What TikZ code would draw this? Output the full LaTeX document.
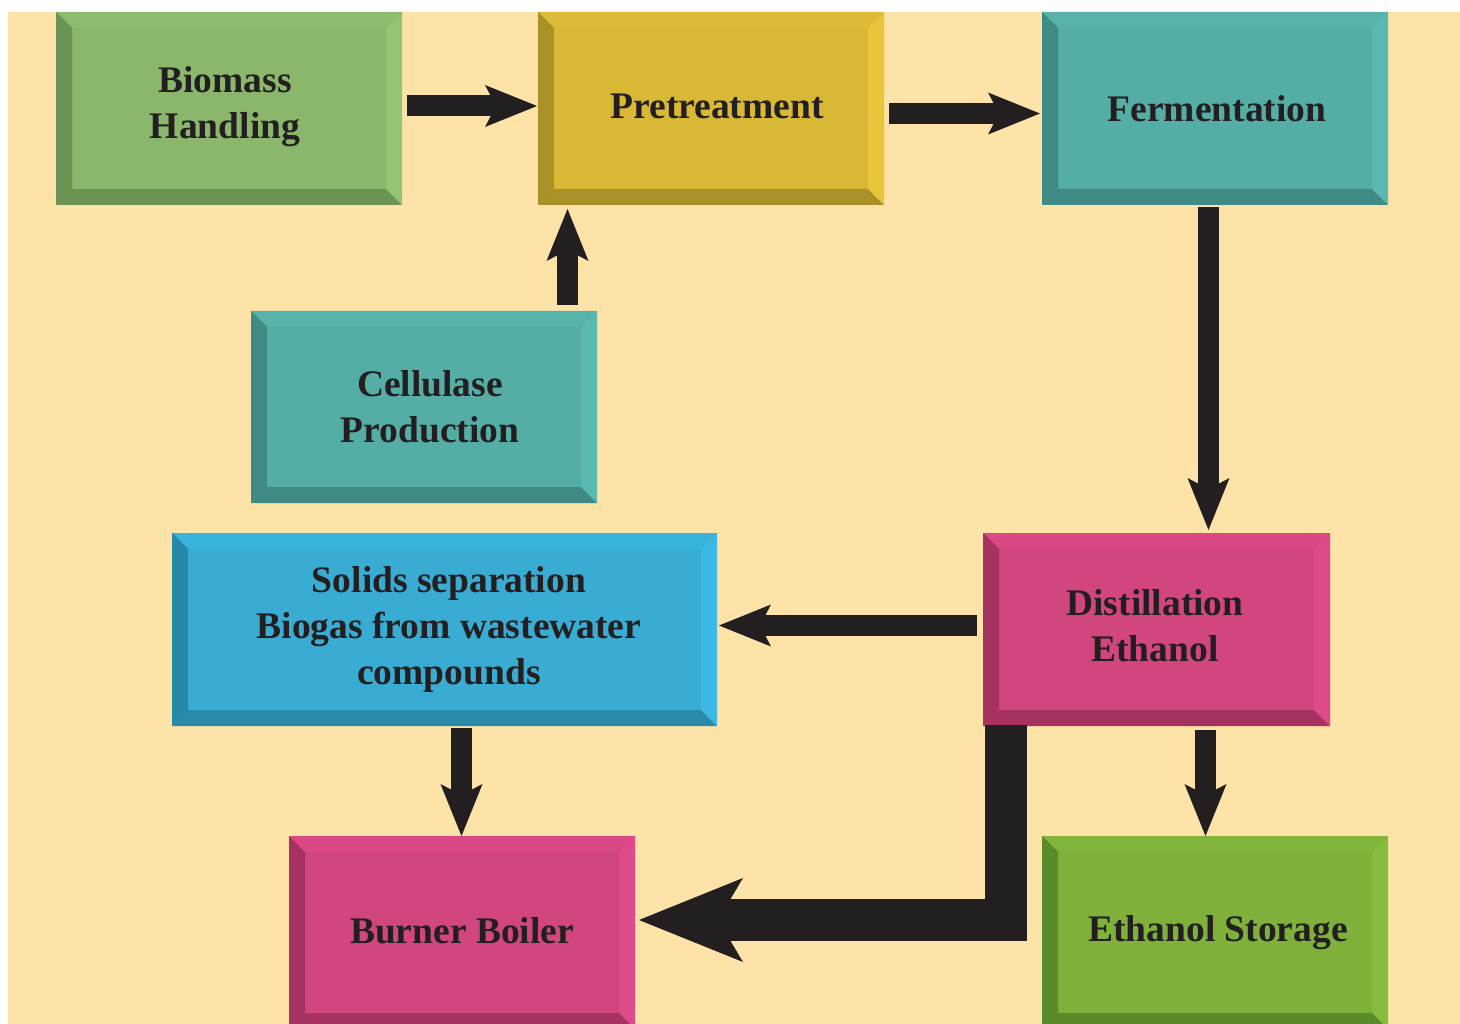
\documentclass[tikz,border=0pt]{standalone}
\usepackage{fontspec}
\setmainfont{Liberation Serif}
\usetikzlibrary{arrows.meta,calc}
\definecolor{bgc}{HTML}{FDE3A8}
\definecolor{ink}{HTML}{231F20}
% green 1
\definecolor{gaF}{HTML}{8AB76B}\definecolor{gaT}{HTML}{8EBC6E}\definecolor{gaL}{HTML}{6A9354}\definecolor{gaB}{HTML}{6A9354}\definecolor{gaR}{HTML}{93C575}
% yellow
\definecolor{yF}{HTML}{D8B835}\definecolor{yT}{HTML}{DDBA38}\definecolor{yL}{HTML}{A99128}\definecolor{yB}{HTML}{A99128}\definecolor{yR}{HTML}{E9C53A}
% teal
\definecolor{tF}{HTML}{54AEA6}\definecolor{tT}{HTML}{57B2AA}\definecolor{tL}{HTML}{3F8A83}\definecolor{tB}{HTML}{3F8A83}\definecolor{tR}{HTML}{5AB9B0}
% pink
\definecolor{pF}{HTML}{D1467F}\definecolor{pT}{HTML}{DA4986}\definecolor{pL}{HTML}{A53260}\definecolor{pB}{HTML}{A53260}\definecolor{pR}{HTML}{DF4A88}
% blue
\definecolor{bF}{HTML}{38ACD2}\definecolor{bT}{HTML}{38B4DC}\definecolor{bL}{HTML}{2689A8}\definecolor{bB}{HTML}{2A8CAA}\definecolor{bR}{HTML}{3BB9E2}
% green 2
\definecolor{gbF}{HTML}{7EB03A}\definecolor{gbT}{HTML}{80B43A}\definecolor{gbL}{HTML}{5B8A2A}\definecolor{gbB}{HTML}{5B8A2A}\definecolor{gbR}{HTML}{86BC3E}
\newcommand\bev[5]{%
  \fill[#2] (#1.north west) -- (#1.north east) -- ([shift={(-16,16)}]#1.north east) -- ([shift={(16,16)}]#1.north west) -- cycle;
  \fill[#3] (#1.north west) -- ([shift={(16,16)}]#1.north west) -- ([shift={(16,-16)}]#1.south west) -- (#1.south west) -- cycle;
  \fill[#4] (#1.south west) -- ([shift={(16,-16)}]#1.south west) -- ([shift={(-16,-16)}]#1.south east) -- (#1.south east) -- cycle;
  \fill[#5] (#1.north east) -- ([shift={(-16,16)}]#1.north east) -- ([shift={(-16,-16)}]#1.south east) -- (#1.south east) -- cycle;
}
\tikzset{
  box/.style={draw=none, inner sep=0pt, outer sep=0pt, minimum width=346pt, minimum height=193pt},
  lbl/.style={text=ink, align=center, inner sep=0pt, font=\fontsize{37.5}{46}\selectfont\bfseries},
  arr/.style={draw=ink, line width=21pt, -{Stealth[length=52pt,width=42pt,inset=11pt,line width=0pt]}},
  bigarr/.style={draw=ink, line width=42pt, line join=miter, -{Stealth[length=104pt,width=84pt,inset=25pt,line width=0pt]}},
}
\begin{document}
\begin{tikzpicture}[x=1pt,y=-1pt]
\useasboundingbox (0,0) rectangle (1460,1024);
\fill[white] (0,0) rectangle (1460,1024);
\fill[bgc] (8,12) rectangle (1460,1024);

\node[box, fill=gaF] (bio) at (229,108.5) {};
\bev{bio}{gaT}{gaL}{gaB}{gaR}
\node[box, fill=yF] (pre) at (711,108.5) {};
\bev{pre}{yT}{yL}{yB}{yR}
\node[box, fill=tF] (fer) at (1215,108.5) {};
\bev{fer}{tT}{tL}{tB}{tR}
\node[box, fill=tF, minimum height=192pt] (cel) at (424,407) {};
\bev{cel}{tT}{tL}{tB}{tR}
\node[box, fill=bF, minimum width=545pt] (sol) at (444.5,629.5) {};
\bev{sol}{bT}{bL}{bB}{bR}
\node[box, fill=pF, minimum width=347pt] (dis) at (1156.5,629.5) {};
\bev{dis}{pT}{pL}{pB}{pR}
\node[box, fill=pF] (bur) at (462,932.5) {};
\bev{bur}{pT}{pL}{pB}{pR}
\node[box, fill=gbF] (eth) at (1215,932.5) {};
\bev{eth}{gbT}{gbL}{gbB}{gbR}

\node[lbl] (bio-t) at (225,107) {Biomass\\Handling};
\node[lbl] (pre-t) at (717,106) {Pretreatment};
\node[lbl] (fer-t) at (1217,109) {Fermentation};
\node[lbl] (cel-t) at (430,407) {Cellulase\\Production};
\node[lbl] (sol-t) at (449,629) {Solids separation\\Biogas from wastewater\\compounds};
\node[lbl] (dis-t) at (1155,626) {Distillation\\Ethanol};
\node[lbl] (bur-t) at (462,931) {Burner Boiler};
\node[lbl] (eth-t) at (1218,933) {Ethanol Storage};

\draw[arr] ([shift={(5,-2.5)}]bio.east) -- ([shift={(-1,-2.5)}]pre.west);
\draw[arr] ([shift={(5,5)}]pre.east) -- ([shift={(-2,5)}]fer.west);
\draw[arr] ([shift={(143.5,-6)}]cel.north) -- ([shift={(-143.5,4)}]pre.south);
\draw[arr] ([shift={(-6.5,2)}]fer.south) -- ([shift={(52,-3)}]dis.north);
\draw[arr] ([shift={(-6,-4)}]dis.west) -- ([shift={(2,-4)}]sol.east);
\draw[arr] ([shift={(17,2)}]sol.south) -- ([shift={(-0.5,0)}]bur.north);
\draw[arr] ([shift={(49,4)}]dis.south) -- ([shift={(-9.5,0)}]eth.north);
\draw[bigarr] ([shift={(-150.5,-1)}]dis.south) |- ([shift={(4,-12.5)}]bur.east);
\end{tikzpicture}
\end{document}
